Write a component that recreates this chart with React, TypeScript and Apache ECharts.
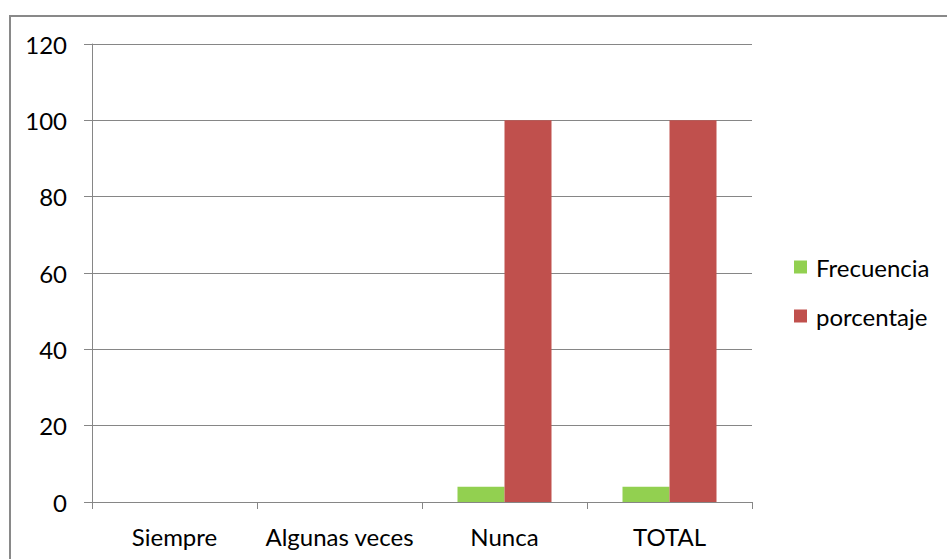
import React, { useEffect, useRef } from "react";
import * as echarts from "echarts";

const categories = ["Siempre", "Algunas veces", "Nunca", "TOTAL"];
const frecuencia = [0, 0, 4, 4];
const porcentaje = [0, 0, 100, 100];
const yTicks = { min: 0, max: 120, interval: 20 };

const FONT = "Lato";
const FS = 24;
const FW = 400;
const AXIS = "#868686";

export default function App() {
  const ref = useRef<HTMLDivElement>(null);
  useEffect(() => {
    if (!ref.current) return;
    const chart = echarts.init(ref.current, undefined, { renderer: "svg" });
    chart.setOption({
      animation: false,
      backgroundColor: "#ffffff",
      textStyle: { fontFamily: FONT },
      graphic: [
        {
          type: "rect",
          shape: { x: 10, y: 16, width: 1000, height: 600 },
          style: { fill: "none", stroke: "#898989", lineWidth: 2 },
          silent: true,
        },
      ],
      grid: { left: 92, right: 195, top: 44, bottom: 57 },
      legend: {
        orient: "vertical",
        left: 789,
        top: 250,
        itemWidth: 13,
        itemHeight: 13,
        itemGap: 25,
        icon: "rect",
        textStyle: { fontFamily: FONT, fontSize: FS, fontWeight: FW, color: "#000", padding: [0, 0, 0, 4] },
        data: ["Frecuencia", "porcentaje"],
      },
      xAxis: {
        type: "category",
        data: categories,
        axisLine: { lineStyle: { color: AXIS, width: 1 } },
        axisTick: { show: true, interval: 0, length: 7, alignWithLabel: false, lineStyle: { color: AXIS } },
        axisLabel: { interval: 0, color: "#000", fontSize: FS, fontWeight: FW, fontFamily: FONT, margin: 22 },
      },
      yAxis: {
        type: "value",
        min: yTicks.min,
        max: yTicks.max,
        interval: yTicks.interval,
        axisLine: { show: true, lineStyle: { color: AXIS, width: 1 } },
        axisTick: { show: true, length: 8, lineStyle: { color: AXIS } },
        splitLine: { show: true, lineStyle: { color: AXIS, width: 1 } },
        axisLabel: { color: "#000", fontSize: FS, fontWeight: FW, fontFamily: FONT, margin: 25 },
      },
      series: [
        {
          name: "Frecuencia",
          type: "bar",
          data: frecuencia,
          barWidth: 47,
          barGap: "0%",
          itemStyle: { color: "#92D050" },
        },
        {
          name: "porcentaje",
          type: "bar",
          data: porcentaje,
          barWidth: 47,
          barGap: "0%",
          itemStyle: { color: "#C0504D" },
        },
      ],
    });
    return () => chart.dispose();
  }, []);
  return (
    <div
      ref={ref}
      style={{ position: "fixed", left: 0, top: 0, width: 947, height: 559, background: "#fff" }}
    />
  );
}
